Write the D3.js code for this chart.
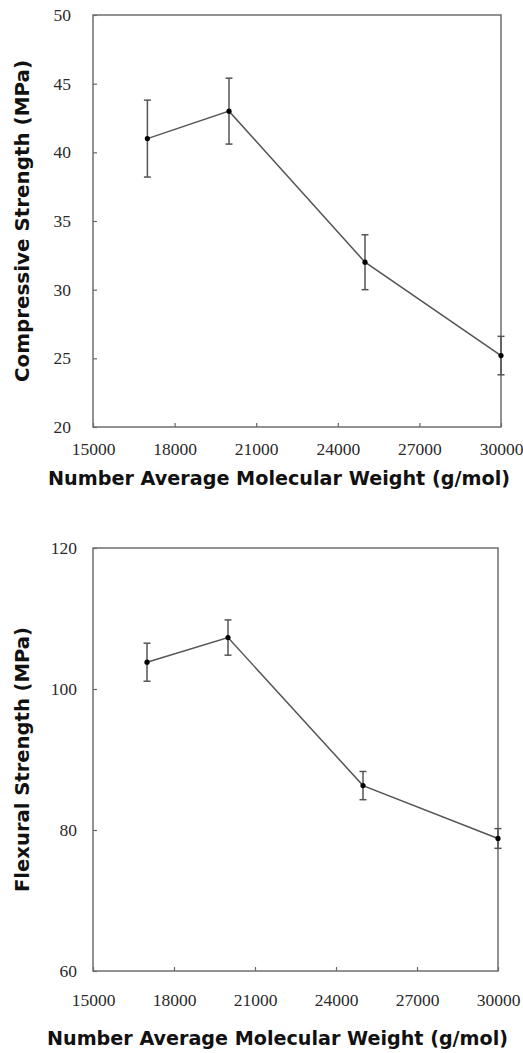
<!DOCTYPE html>
<html>
<head>
<meta charset="utf-8">
<script src="https://cdn.jsdelivr.net/npm/d3@7"></script>
<style>
  html, body { margin: 0; padding: 0; background: #fff; }
  svg { display: block; }
</style>
</head>
<body>
<div id="chart"></div>
<script>
// molecular weights (g/mol)
const weights = [17000, 20000, 25000, 30000]

const compressive = [41.0, 43.0, 32.0, 25.2]
const compressiveErr = [2.8, 2.4, 2.0, 1.4]

const flexural = [103.8, 107.3, 86.3, 78.8]
const flexuralErr = [2.7, 2.5, 2.0, 1.4]

const xTicks = [15000, 18000, 21000, 24000, 27000, 30000]
const compressiveTicks = [20, 25, 30, 35, 40, 45, 50]
const flexuralTicks = [60, 80, 100, 120]

const xTitle = 'Number Average Molecular Weight (g/mol)'

const width = 523
const height = 1053

const svg = d3.select('#chart')
  .append('svg')
  .attr('width', width)
  .attr('height', height)
  .attr('viewBox', [0, 0, width, height].join(' '))

const panels = [
  {
    values: compressive, errors: compressiveErr, yTicks: compressiveTicks,
    yDomain: [20, 50], yTitle: 'Compressive Strength (MPa)',
    left: 93, right: 501, top: 15, bottom: 427,
    xPad: 16, yPad: 22, xTitleY: 485, xTitleLen: 462, yTitleLen: 322
  },
  {
    values: flexural, errors: flexuralErr, yTicks: flexuralTicks,
    yDomain: [60, 120], yTitle: 'Flexural Strength (MPa)',
    left: 93, right: 498, top: 548, bottom: 971,
    xPad: 23, yPad: 16, xTitleY: 1045, xTitleLen: 461, yTitleLen: 265
  }
]

const tickFont = '"Liberation Serif", "Times New Roman", serif'
const titleFont = '"DejaVu Sans", "Noto Sans", sans-serif'

panels.forEach(p => {
  const g = svg.append('g').attr('class', 'panel')

  const x = d3.scaleLinear()
    .domain([15000, 30000])
    .range([p.left, p.right])

  const y = d3.scaleLinear()
    .domain(p.yDomain)
    .range([p.bottom, p.top])

  // X
  g.append('g')
    .attr('transform', `translate(0,${p.bottom})`)
    .call(d3.axisBottom(x).tickValues(xTicks).tickFormat(d3.format('d'))
      .tickSizeInner(-4).tickSizeOuter(0).tickPadding(p.xPad))
    .call(a => a.select('.domain').remove())
    .call(a => a.selectAll('.tick line').attr('stroke', '#666').attr('stroke-width', 1.2))
    .call(a => a.selectAll('.tick text')
      .attr('fill', '#2a2a2a')
      .style('font-family', tickFont)
      .style('font-size', '17.5px'))

  // Y
  g.append('g')
    .attr('transform', `translate(${p.left},0)`)
    .call(d3.axisLeft(y).tickValues(p.yTicks)
      .tickSizeInner(-4).tickSizeOuter(0).tickPadding(p.yPad))
    .call(a => a.select('.domain').remove())
    .call(a => a.selectAll('.tick line').attr('stroke', '#666').attr('stroke-width', 1.2))
    .call(a => a.selectAll('.tick text')
      .attr('fill', '#2a2a2a')
      .style('font-family', tickFont)
      .style('font-size', '17.5px'))

  // frame
  g.append('rect')
    .attr('x', p.left)
    .attr('y', p.top)
    .attr('width', p.right - p.left)
    .attr('height', p.bottom - p.top)
    .attr('fill', 'none')
    .attr('stroke', '#6e6e6e')
    .attr('stroke-width', 1.5)

  const rows = weights.map((w, i) => ({ w, v: p.values[i], e: p.errors[i] }))

  // error bars
  const err = g.append('g').attr('class', 'errors')
    .attr('stroke', '#555')
    .attr('stroke-width', 1.5)

  err.selectAll('line.stem')
    .data(rows)
    .join('line')
    .attr('class', 'stem')
    .attr('x1', d => x(d.w)).attr('x2', d => x(d.w))
    .attr('y1', d => y(d.v - d.e)).attr('y2', d => y(d.v + d.e))

  err.selectAll('line.cap')
    .data(rows.flatMap(d => [{ w: d.w, v: d.v - d.e }, { w: d.w, v: d.v + d.e }]))
    .join('line')
    .attr('class', 'cap')
    .attr('x1', d => x(d.w) - 3.5).attr('x2', d => x(d.w) + 3.5)
    .attr('y1', d => y(d.v)).attr('y2', d => y(d.v))

  // line
  g.append('path')
    .datum(rows)
    .attr('fill', 'none')
    .attr('stroke', '#555')
    .attr('stroke-width', 1.5)
    .attr('d', d3.line().x(d => x(d.w)).y(d => y(d.v)))

  g.selectAll('circle')
    .data(rows)
    .join('circle')
    .attr('cx', d => x(d.w))
    .attr('cy', d => y(d.v))
    .attr('r', 2.6)
    .attr('fill', '#000')

  // titles
  g.append('text')
    .attr('x', (p.left + p.right) / 2 - 18)
    .attr('y', p.xTitleY)
    .attr('text-anchor', 'middle')
    .attr('font-family', titleFont)
    .attr('font-weight', 'bold')
    .attr('font-size', 19)
    .attr('textLength', p.xTitleLen)
    .attr('lengthAdjust', 'spacingAndGlyphs')
    .attr('fill', '#111')
    .text(xTitle)

  g.append('text')
    .attr('transform', `translate(29,${(p.top + p.bottom) / 2}) rotate(-90)`)
    .attr('text-anchor', 'middle')
    .attr('font-family', titleFont)
    .attr('font-weight', 'bold')
    .attr('font-size', 19)
    .attr('textLength', p.yTitleLen)
    .attr('lengthAdjust', 'spacingAndGlyphs')
    .attr('fill', '#111')
    .text(p.yTitle)
})
</script>
</body>
</html>
